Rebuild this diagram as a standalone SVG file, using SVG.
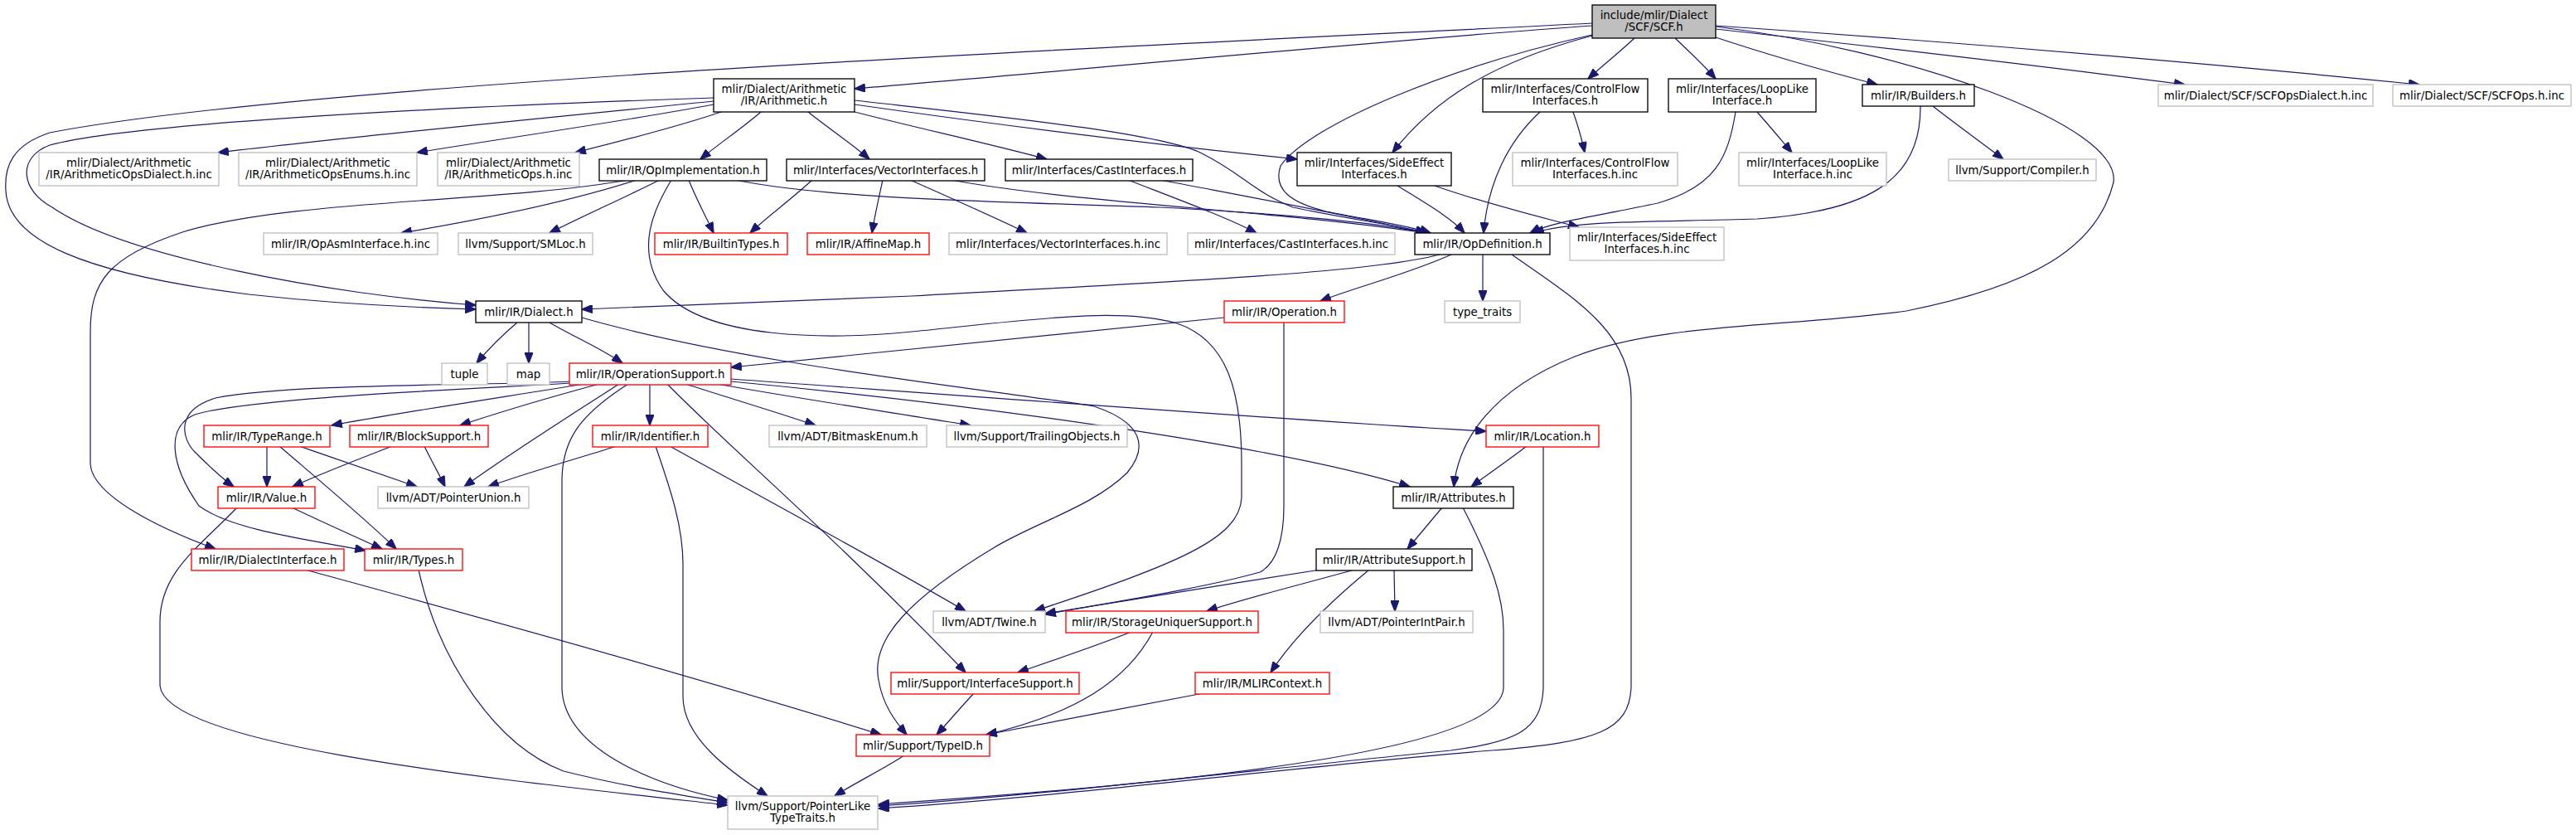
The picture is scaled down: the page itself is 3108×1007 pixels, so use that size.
<svg xmlns="http://www.w3.org/2000/svg" width="3108" height="1007" viewBox="0 0 3108 1007">
<defs>
<marker id="a" markerUnits="userSpaceOnUse" markerWidth="14" markerHeight="10" viewBox="0 0 13 10" refX="12.5" refY="5" orient="auto">
<path d="M0,0 L13,5 L0,10 z" fill="#191970" stroke="#191970" stroke-width="1"/>
</marker>
<style>
rect{fill:#fff;stroke-width:1.33}
.k rect{stroke:#000}
.g rect{stroke:#bfbfbf}
.r rect{stroke:#ff0000}
.root rect{fill:#bfbfbf;stroke:#000}
text{font-family:"DejaVu Sans","Liberation Sans",sans-serif;font-size:13.33px;text-anchor:middle;fill:#000}
#edges path{fill:none;stroke:#191970;stroke-width:1.2;marker-end:url(#a)}
</style>
</defs>
<rect x="0" y="0" width="3108" height="1007" style="fill:#fff;stroke:none"/>
<g id="edges">
<!-- SCF.h -->
<path d="M1921,31 C1650,50 1300,85 1031,107"/>
<path d="M1921,28 C1500,50 400,95 60,160 C15,175 5,200 7,230 C10,290 100,330 300,355 C400,366 500,371 574,373"/>
<path d="M1972,46 C1955,62 1935,78 1916,95"/>
<path d="M2021,46 C2038,62 2055,78 2070,95"/>
<path d="M2070,45 C2130,65 2200,85 2265,102"/>
<path d="M2070,35 C2250,55 2450,78 2636,102"/>
<path d="M2070,31 C2350,50 2650,75 2919,102"/>
<path d="M1921,43 C1800,75 1730,120 1680,184"/>
<path d="M1921,42 C1750,80 1580,150 1545,200 C1535,230 1560,245 1600,255 C1650,265 1700,272 1726,281"/>
<path d="M2070,32 C2300,60 2560,150 2550,220 C2530,300 2450,345 2300,375 C2150,395 2000,390 1900,430 C1800,470 1760,530 1754,587"/>
<!-- Arithmetic.h -->
<path d="M861,118 C500,130 150,150 60,175 C20,190 25,230 63,250 C150,310 400,355 574,368"/>
<path d="M861,122 C700,138 450,162 263,184"/>
<path d="M861,126 C760,145 620,165 503,184"/>
<path d="M870,135 C820,152 750,170 694,184"/>
<path d="M918,135 C895,155 865,175 845,192"/>
<path d="M975,135 C1000,155 1030,175 1049,192"/>
<path d="M1031,135 C1110,155 1200,175 1263,192"/>
<path d="M1031,126 C1200,150 1400,175 1565,192"/>
<path d="M1031,121 C1200,140 1400,160 1450,185 C1500,210 1510,230 1560,250 C1630,265 1690,272 1721,281"/>
<!-- OpImplementation.h -->
<path d="M768,217 C680,245 580,265 484,281"/>
<path d="M796,217 C750,240 700,262 663,281"/>
<path d="M831,217 C840,240 852,262 861,281"/>
<path d="M887,217 C1000,240 1200,243 1400,250 C1550,258 1660,268 1721,281"/>
<path d="M758,217 C600,245 350,240 220,280 C130,310 109,340 109,400 L109,560 C112,600 200,640 260,662"/>
<path d="M810,217 C790,250 765,300 800,350 C850,410 1000,410 1100,400 C1250,385 1350,370 1420,390 C1480,410 1498,470 1498,560 L1498,600 C1496,650 1420,680 1248,737"/>
<!-- VectorInterfaces.h -->
<path d="M980,217 C955,240 925,262 905,281"/>
<path d="M1065,217 C1060,240 1055,262 1052,281"/>
<path d="M1098,217 C1150,240 1200,262 1239,281"/>
<path d="M1147,217 C1300,245 1550,255 1721,281"/>
<!-- CastInterfaces.h -->
<path d="M1361,217 C1420,240 1480,262 1516,281"/>
<path d="M1400,217 C1520,240 1640,262 1721,281"/>
<!-- SideEffectInterfaces.h -->
<path d="M1686,224 C1720,245 1750,262 1767,281"/>
<path d="M1731,224 C1790,245 1860,262 1905,274"/>
<!-- ControlFlowInterfaces.h -->
<path d="M1858,135 C1820,170 1795,220 1790,281"/>
<path d="M1898,135 C1904,152 1909,170 1912,184"/>
<!-- LoopLikeInterface.h -->
<path d="M2094,135 C2085,190 2070,225 2000,245 C1930,260 1870,268 1846,281"/>
<path d="M2120,135 C2135,152 2150,170 2162,184"/>
<!-- Builders.h -->
<path d="M2317,128 C2318,220 2250,255 2120,264 C2000,268 1900,265 1850,281"/>
<path d="M2332,128 C2360,150 2395,175 2417,192"/>
<!-- OpDefinition.h -->
<path d="M1751,307 C1700,330 1640,345 1593,363"/>
<path d="M1789,307 L1789,363"/>
<path d="M1737,307 C1650,330 1400,340 1100,357 C900,366 780,370 702,373"/>
<path d="M1824,307 C1900,360 1968,400 1968,480 L1968,830 C1965,880 1930,895 1800,905 C1600,920 1300,960 1060,975"/>
<!-- Operation.h -->
<path d="M1477,383 C1300,400 1100,420 882,443"/>
<path d="M1549,389 L1549,610 C1549,650 1540,680 1520,690 C1450,710 1330,728 1261,741"/>
<!-- Dialect.h -->
<path d="M624,389 C605,405 590,420 575,438"/>
<path d="M638,389 L638,438"/>
<path d="M663,389 C690,405 725,420 751,438"/>
<path d="M702,383 C900,440 1200,470 1320,490 C1380,510 1385,540 1360,570 C1320,610 1250,630 1200,660 C1100,720 1050,770 1060,820 C1065,850 1080,870 1094,886"/>
<!-- OperationSupport.h -->
<path d="M705,463 C600,480 480,498 400,513"/>
<path d="M723,463 C660,480 600,498 555,513"/>
<path d="M688,460 C600,465 350,462 260,480 C210,495 220,530 235,545 C250,560 265,575 282,587"/>
<path d="M690,462 C550,470 300,480 235,500 C200,515 205,560 240,610 C280,640 380,652 441,664"/>
<path d="M747,463 C690,500 610,550 560,587"/>
<path d="M758,463 C700,500 678,530 678,580 L678,830 C680,900 780,945 878,965"/>
<path d="M784,463 L784,513"/>
<path d="M805,463 C880,540 1000,640 1165,811"/>
<path d="M827,463 C880,480 940,498 984,513"/>
<path d="M865,463 C960,480 1080,498 1171,513"/>
<path d="M882,457 C1200,480 1600,510 1793,520"/>
<path d="M882,460 C1200,490 1550,540 1701,587"/>
<!-- TypeRange.h -->
<path d="M322,538 L322,587"/>
<path d="M337,538 C380,575 440,625 478,662"/>
<path d="M361,538 C410,555 460,572 503,587"/>
<!-- BlockSupport.h -->
<path d="M473,538 C430,555 385,572 353,587"/>
<path d="M512,538 C520,555 530,572 537,587"/>
<!-- Identifier.h -->
<path d="M744,538 C690,555 630,572 589,587"/>
<path d="M791,538 C805,580 824,630 824,680 L824,840 C824,890 880,930 926,960"/>
<path d="M808,538 C920,600 1050,670 1165,737"/>
<!-- Location.h -->
<path d="M1842,538 C1820,555 1795,572 1775,587"/>
<path d="M1862,538 L1862,830 C1860,880 1830,895 1750,905 C1500,930 1250,960 1060,972"/>
<!-- Attributes.h -->
<path d="M1740,612 C1725,630 1710,648 1698,662"/>
<path d="M1765,612 C1800,680 1814,720 1814,760 L1814,830 C1810,900 1500,940 1060,970"/>
<!-- AttributeSupport.h -->
<path d="M1593,687 C1480,705 1350,725 1261,740"/>
<path d="M1634,687 C1570,705 1500,722 1456,737"/>
<path d="M1682,687 L1683,737"/>
<path d="M1652,687 C1600,730 1560,770 1533,811"/>
<!-- StorageUniquerSupport.h -->
<path d="M1365,762 C1320,780 1260,800 1228,811"/>
<path d="M1391,762 C1360,820 1300,860 1190,886"/>
<!-- InterfaceSupport.h -->
<path d="M1175,836 C1160,852 1145,870 1130,886"/>
<!-- MLIRContext.h -->
<path d="M1452,836 C1370,852 1270,870 1190,886"/>
<!-- TypeID.h -->
<path d="M1091,911 C1065,928 1030,945 1007,960"/>
<!-- Value.h -->
<path d="M352,612 C390,630 430,648 461,662"/>
<path d="M286,612 C240,660 193,690 193,750 L193,827 C200,900 600,940 878,971"/>
<!-- Types.h -->
<path d="M505,687 C530,800 600,900 680,930 C760,950 830,960 878,968"/>
<!-- DialectInterface.h -->
<path d="M368,687 C600,750 850,820 1063,886"/>
</g>

<g id="n_scf" class="root"><rect x="1921" y="6" width="149" height="40"/><text x="1995.5" y="23">include/mlir/Dialect</text><text x="1995.5" y="37">/SCF/SCF.h</text></g>
<g id="n_arith" class="k"><rect x="861" y="95" width="170" height="40"/><text x="946" y="112">mlir/Dialect/Arithmetic</text><text x="946" y="126">/IR/Arithmetic.h</text></g>
<g id="n_cf" class="k"><rect x="1789" y="95" width="199" height="40"/><text x="1888.5" y="112">mlir/Interfaces/ControlFlow</text><text x="1888.5" y="126">Interfaces.h</text></g>
<g id="n_loop" class="k"><rect x="2013" y="95" width="178" height="40"/><text x="2102" y="112">mlir/Interfaces/LoopLike</text><text x="2102" y="126">Interface.h</text></g>
<g id="n_builders" class="k"><rect x="2247" y="102" width="135" height="26"/><text x="2314.5" y="119.5">mlir/IR/Builders.h</text></g>
<g id="n_scfdialect" class="g"><rect x="2604" y="102" width="259" height="26"/><text x="2733.5" y="119.5">mlir/Dialect/SCF/SCFOpsDialect.h.inc</text></g>
<g id="n_scfops" class="g"><rect x="2887" y="102" width="215" height="26"/><text x="2994.5" y="119.5">mlir/Dialect/SCF/SCFOps.h.inc</text></g>

<g id="n_arithdialect" class="g"><rect x="47" y="184" width="217" height="40"/><text x="155.5" y="201">mlir/Dialect/Arithmetic</text><text x="155.5" y="215">/IR/ArithmeticOpsDialect.h.inc</text></g>
<g id="n_arithenums" class="g"><rect x="288" y="184" width="215" height="40"/><text x="395.5" y="201">mlir/Dialect/Arithmetic</text><text x="395.5" y="215">/IR/ArithmeticOpsEnums.h.inc</text></g>
<g id="n_arithops" class="g"><rect x="528" y="184" width="171" height="40"/><text x="613.5" y="201">mlir/Dialect/Arithmetic</text><text x="613.5" y="215">/IR/ArithmeticOps.h.inc</text></g>
<g id="n_opimpl" class="k"><rect x="723" y="192" width="202" height="26"/><text x="824" y="209.5">mlir/IR/OpImplementation.h</text></g>
<g id="n_vector" class="k"><rect x="949" y="192" width="239" height="26"/><text x="1068.5" y="209.5">mlir/Interfaces/VectorInterfaces.h</text></g>
<g id="n_cast" class="k"><rect x="1213" y="192" width="226" height="26"/><text x="1326" y="209.5">mlir/Interfaces/CastInterfaces.h</text></g>
<g id="n_side" class="k"><rect x="1565" y="184" width="186" height="40"/><text x="1658" y="201">mlir/Interfaces/SideEffect</text><text x="1658" y="215">Interfaces.h</text></g>
<g id="n_cfinc" class="g"><rect x="1825" y="184" width="199" height="40"/><text x="1924.5" y="201">mlir/Interfaces/ControlFlow</text><text x="1924.5" y="215">Interfaces.h.inc</text></g>
<g id="n_loopinc" class="g"><rect x="2098" y="184" width="178" height="40"/><text x="2187" y="201">mlir/Interfaces/LoopLike</text><text x="2187" y="215">Interface.h.inc</text></g>
<g id="n_compiler" class="g"><rect x="2351" y="192" width="178" height="26"/><text x="2440" y="209.5">llvm/Support/Compiler.h</text></g>

<g id="n_opasm" class="g"><rect x="318" y="281" width="210" height="26"/><text x="423" y="298.5">mlir/IR/OpAsmInterface.h.inc</text></g>
<g id="n_smloc" class="g"><rect x="553" y="281" width="162" height="26"/><text x="634" y="298.5">llvm/Support/SMLoc.h</text></g>
<g id="n_builtin" class="r"><rect x="790" y="281" width="160" height="26"/><text x="870" y="298.5">mlir/IR/BuiltinTypes.h</text></g>
<g id="n_affine" class="r"><rect x="974" y="281" width="147" height="26"/><text x="1047.5" y="298.5">mlir/IR/AffineMap.h</text></g>
<g id="n_vecinc" class="g"><rect x="1145" y="281" width="263" height="26"/><text x="1276.5" y="298.5">mlir/Interfaces/VectorInterfaces.h.inc</text></g>
<g id="n_castinc" class="g"><rect x="1433" y="281" width="250" height="26"/><text x="1558" y="298.5">mlir/Interfaces/CastInterfaces.h.inc</text></g>
<g id="n_opdef" class="k"><rect x="1707" y="281" width="163" height="26"/><text x="1788.5" y="298.5">mlir/IR/OpDefinition.h</text></g>
<g id="n_sideinc" class="g"><rect x="1894" y="274" width="186" height="40"/><text x="1987" y="291">mlir/Interfaces/SideEffect</text><text x="1987" y="305">Interfaces.h.inc</text></g>

<g id="n_dialect" class="k"><rect x="574" y="363" width="128" height="26"/><text x="638" y="380.5">mlir/IR/Dialect.h</text></g>
<g id="n_operation" class="r"><rect x="1477" y="363" width="145" height="26"/><text x="1549.5" y="380.5">mlir/IR/Operation.h</text></g>
<g id="n_typetraits" class="g"><rect x="1743" y="363" width="91" height="26"/><text x="1788.5" y="380.5">type_traits</text></g>

<g id="n_tuple" class="g"><rect x="533" y="438" width="55" height="26"/><text x="560.5" y="455.5">tuple</text></g>
<g id="n_map" class="g"><rect x="612" y="438" width="51" height="26"/><text x="637.5" y="455.5">map</text></g>
<g id="n_opsupport" class="r"><rect x="687" y="438" width="195" height="26"/><text x="784.5" y="455.5">mlir/IR/OperationSupport.h</text></g>

<g id="n_typerange" class="r"><rect x="246" y="513" width="152" height="26"/><text x="322" y="530.5">mlir/IR/TypeRange.h</text></g>
<g id="n_blocksupport" class="r"><rect x="422" y="513" width="167" height="26"/><text x="505.5" y="530.5">mlir/IR/BlockSupport.h</text></g>
<g id="n_identifier" class="r"><rect x="715" y="513" width="139" height="26"/><text x="784.5" y="530.5">mlir/IR/Identifier.h</text></g>
<g id="n_bitmask" class="g"><rect x="928" y="513" width="190" height="26"/><text x="1023" y="530.5">llvm/ADT/BitmaskEnum.h</text></g>
<g id="n_trailing" class="g"><rect x="1142" y="513" width="218" height="26"/><text x="1251" y="530.5">llvm/Support/TrailingObjects.h</text></g>
<g id="n_location" class="r"><rect x="1793" y="513" width="136" height="26"/><text x="1861" y="530.5">mlir/IR/Location.h</text></g>

<g id="n_value" class="r"><rect x="263" y="587" width="117" height="26"/><text x="321.5" y="604.5">mlir/IR/Value.h</text></g>
<g id="n_ptrunion" class="g"><rect x="456" y="587" width="182" height="26"/><text x="547" y="604.5">llvm/ADT/PointerUnion.h</text></g>
<g id="n_attributes" class="k"><rect x="1681" y="587" width="145" height="26"/><text x="1753.5" y="604.5">mlir/IR/Attributes.h</text></g>

<g id="n_dialectiface" class="r"><rect x="231" y="662" width="184" height="26"/><text x="323" y="679.5">mlir/IR/DialectInterface.h</text></g>
<g id="n_types" class="r"><rect x="440" y="662" width="118" height="26"/><text x="499" y="679.5">mlir/IR/Types.h</text></g>
<g id="n_attrsupport" class="k"><rect x="1588" y="662" width="188" height="26"/><text x="1682" y="679.5">mlir/IR/AttributeSupport.h</text></g>

<g id="n_twine" class="g"><rect x="1126" y="737" width="135" height="26"/><text x="1193.5" y="754.5">llvm/ADT/Twine.h</text></g>
<g id="n_storage" class="r"><rect x="1286" y="737" width="232" height="26"/><text x="1402" y="754.5">mlir/IR/StorageUniquerSupport.h</text></g>
<g id="n_ptrintpair" class="g"><rect x="1593" y="737" width="184" height="26"/><text x="1685" y="754.5">llvm/ADT/PointerIntPair.h</text></g>

<g id="n_ifacesupport" class="r"><rect x="1075" y="811" width="227" height="26"/><text x="1188.5" y="828.5">mlir/Support/InterfaceSupport.h</text></g>
<g id="n_mlircontext" class="r"><rect x="1442" y="811" width="162" height="26"/><text x="1523" y="828.5">mlir/IR/MLIRContext.h</text></g>

<g id="n_typeid" class="r"><rect x="1033" y="886" width="161" height="26"/><text x="1113.5" y="903.5">mlir/Support/TypeID.h</text></g>

<g id="n_ptrlike" class="g"><rect x="878" y="960" width="181" height="40"/><text x="968.5" y="977">llvm/Support/PointerLike</text><text x="968.5" y="991">TypeTraits.h</text></g>
</svg>
